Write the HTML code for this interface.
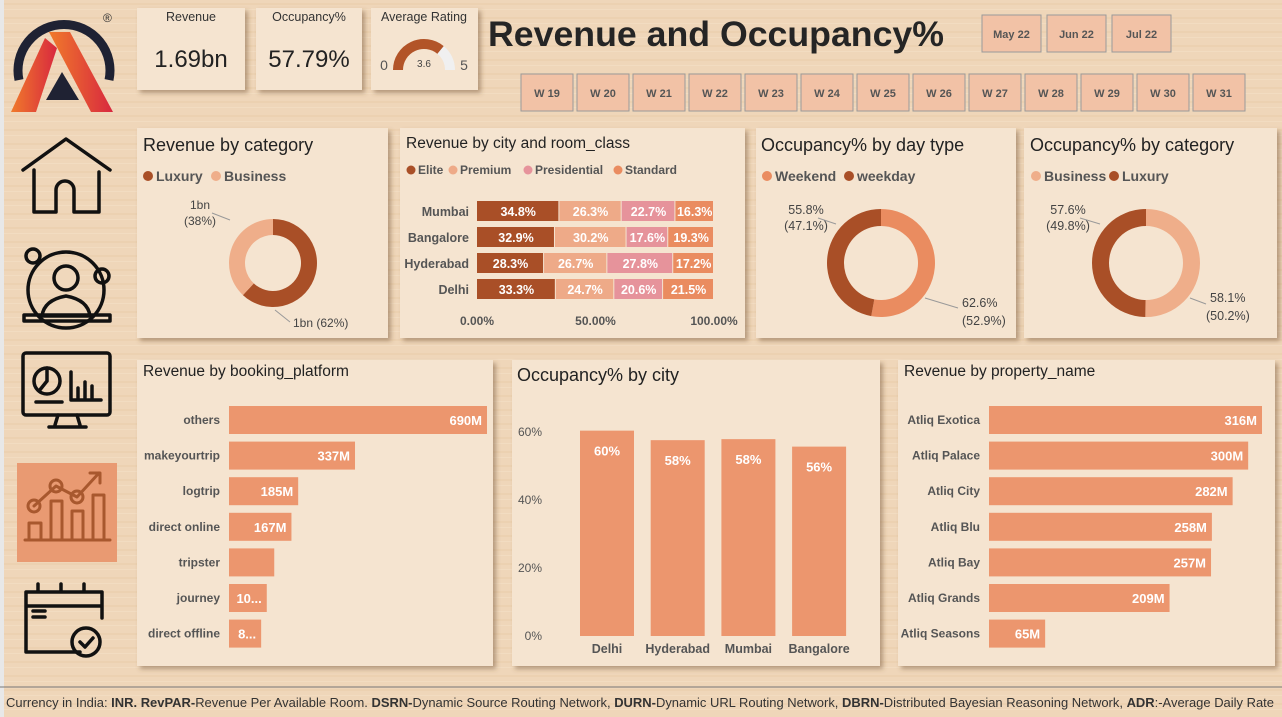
<!DOCTYPE html>
<html><head><meta charset="utf-8"><style>
html,body{margin:0;padding:0;width:1282px;height:717px;overflow:hidden;}
body{background:#efd6b9;font-family:"Liberation Sans",sans-serif;}
svg text{font-family:"Liberation Sans",sans-serif;}
</style></head><body>
<svg id="root" width="1282" height="717" viewBox="0 0 1282 717" xmlns="http://www.w3.org/2000/svg">
<defs>
<pattern id="wood" width="1282" height="14" patternUnits="userSpaceOnUse">
<rect width="1282" height="14" fill="#efd6b9"/>
<rect y="3" width="1282" height="2" fill="#ebcfae" opacity="0.7"/>
<rect y="9" width="1282" height="1" fill="#f3ddc3" opacity="0.8"/>
</pattern>
<filter id="sh" x="-10%" y="-10%" width="130%" height="130%"><feDropShadow dx="3" dy="3" stdDeviation="2.5" flood-color="#6b4a2a" flood-opacity="0.45"/></filter>
<linearGradient id="logoG" x1="0" x2="1"><stop offset="0" stop-color="#f07a2b"/><stop offset="1" stop-color="#d8283f"/></linearGradient>
</defs>
<rect width="1282" height="717" fill="url(#wood)"/>
<rect x="0" y="0" width="4" height="717" fill="#e8e8e8"/>
<g id="layer"></g>
</svg>
<script>
// ---- data ----
const kpiRevenue = "1.69bn";
const kpiOccupancy = "57.79%";
const ratingValue = 3.6, ratingMax = 5;
const months = ["May 22","Jun 22","Jul 22"];
const weeks = ["W 19","W 20","W 21","W 22","W 23","W 24","W 25","W 26","W 27","W 28","W 29","W 30","W 31"];
const revCatLabels = ["Luxury","Business"];
const revCatShares = [62,38];
const cities = ["Mumbai","Bangalore","Hyderabad","Delhi"];
const roomClasses = ["Elite","Premium","Presidential","Standard"];
const eliteShare = [34.8,32.9,28.3,33.3];
const premiumShare = [26.3,30.2,26.7,24.7];
const presidentialShare = [22.7,17.6,27.8,20.6];
const standardShare = [16.3,19.3,17.2,21.5];
const dayTypes = ["Weekend","weekday"];
const dayTypeShares = [52.9,47.1];
const dayTypeOcc = ["62.6%","55.8%"];
const occCatLabels = ["Business","Luxury"];
const occCatShares = [50.2,49.8];
const occCatOcc = ["58.1%","57.6%"];
const platforms = ["others","makeyourtrip","logtrip","direct online","tripster","journey","direct offline"];
const platformRevenue = [690,337,185,167,121,101,86];
const platformLabels = ["690M","337M","185M","167M","","10...","8..."];
const occCities = ["Delhi","Hyderabad","Mumbai","Bangalore"];
const occCityValues = [60.4,57.6,57.9,55.7];
const occTicks = [0,20,40,60];
const properties = ["Atliq Exotica","Atliq Palace","Atliq City","Atliq Blu","Atliq Bay","Atliq Grands","Atliq Seasons"];
const propertyRevenue = [316,300,282,258,257,209,65];

// ---- helpers ----
const NS="http://www.w3.org/2000/svg";
const layer=document.getElementById('layer');
function el(tag,attrs,parent,text){const e=document.createElementNS(NS,tag);for(const k in attrs)e.setAttribute(k,attrs[k]);if(text!==undefined)e.textContent=text;(parent||layer).appendChild(e);return e;}
function card(x,y,w,h,name){const r=el('rect',{x:x,y:y,width:w,height:h,fill:'#f5e4d0',filter:'url(#sh)'});

return r;}
function txt(x,y,s,opts,name,inter){const t=el('text',Object.assign({x:x,y:y,'font-size':12,fill:'#333'},opts||{}),layer,s);

return t;}
const C={elite:'#a94f27',premium:'#eeaa88',pres:'#e6939b',std:'#ea8c60',bar:'#ec966e'};

// ---- logo ----
(function(){
const g=el('g',{});


el('path',{d:'M19 80 A46 46 0 1 1 109 80',fill:'none',stroke:'#1f2233','stroke-width':9},g);
el('polygon',{points:'45,38 57,48 36,112 11,112',fill:'url(#logoG)'},g);
el('polygon',{points:'49,32 70,32 113,112 91,112',fill:'url(#logoG)'},g);
el('polygon',{points:'62,72 79,100 46,100',fill:'#1f2233'},g);
el('text',{x:103,y:22,'font-size':12,fill:'#333'},g,'®');
})();

// ---- KPI cards ----
card(137,8,108,82,'revenue-kpi-card');
txt(191,21,'Revenue',{'text-anchor':'middle','font-size':12.5},'revenue-kpi-label');
txt(191,67,kpiRevenue,{'text-anchor':'middle','font-size':24,fill:'#222'},'revenue-kpi-value');
card(256,8,106,82,'occupancy-kpi-card');
txt(309,21,'Occupancy%',{'text-anchor':'middle','font-size':12.5},'occupancy-kpi-label');
txt(309,67,kpiOccupancy,{'text-anchor':'middle','font-size':24,fill:'#222'},'occupancy-kpi-value');
card(371,8,107,82,'rating-kpi-card');
txt(424,21,'Average Rating',{'text-anchor':'middle','font-size':12.5},'rating-kpi-label');
(function(){const cx=424,cy=70,ro=31,ri=21;
function arc(a0,a1,col,name){const p=(a,r)=>[cx-r*Math.cos(a),cy-r*Math.sin(a)];
const [x0,y0]=p(a0,ro),[x1,y1]=p(a1,ro),[x2,y2]=p(a1,ri),[x3,y3]=p(a0,ri);
const e=el('path',{d:`M${x0} ${y0} A${ro} ${ro} 0 0 1 ${x1} ${y1} L${x2} ${y2} A${ri} ${ri} 0 0 0 ${x3} ${y3}Z`,fill:col});

}
const f=Math.PI*ratingValue/ratingMax;
arc(0,f,'#b25428','rating-gauge-value');arc(f,Math.PI,'#f0f0f0','rating-gauge-remainder');})();
txt(384,70,'0',{'text-anchor':'middle','font-size':14,fill:'#555'},'gauge-min');
txt(464,70,'5',{'text-anchor':'middle','font-size':14,fill:'#555'},'gauge-max');
txt(424,67,String(ratingValue),{'text-anchor':'middle','font-size':10,fill:'#444'},'gauge-value-label');

// ---- title ----
txt(488,46,'Revenue and Occupancy%',{'font-size':35,'font-weight':'bold',fill:'#252525',textLength:456,lengthAdjust:'spacingAndGlyphs'},'dashboard-title');

// ---- slicers ----
months.forEach((m,i)=>{const x=982+i*65;const r=el('rect',{x:x,y:15,width:59,height:37,fill:'#f2c2a6',stroke:'#9a9a9a','stroke-width':1});


txt(x+29.5,38,m,{'text-anchor':'middle','font-size':11,'font-weight':'bold',fill:'#555'},'month-button-label');});
weeks.forEach((w,i)=>{const x=521+i*56;const r=el('rect',{x:x,y:74,width:52,height:37,fill:'#f2c2a6',stroke:'#9a9a9a','stroke-width':1});


txt(x+26,97,w,{'text-anchor':'middle','font-size':11,'font-weight':'bold',fill:'#555'},'week-button-label');});

// ---- nav icons ----
(function(){const s={fill:'none',stroke:'#111','stroke-width':3.5,'stroke-linejoin':'round','stroke-linecap':'round'};
function grp(name,inter){const g=el('g',s);return g;}
let g=grp('home-nav-icon',true);
el('path',{d:'M23 170 L66 139 L110 170'},g);el('path',{d:'M34 170 V212 H56 V190 A9 9 0 0 1 74 190 V212 H99 V172'},g);
g=grp('guest-nav-icon',true);
el('circle',{cx:66,cy:290,r:38},g);el('circle',{cx:33,cy:256,r:7},g);el('circle',{cx:102,cy:276,r:7},g);
el('circle',{cx:66,cy:278,r:12,fill:'#f0d8bc'},g);el('path',{d:'M42 316 Q44 300 66 296 Q88 300 90 316 Z',fill:'#f0d8bc'},g);
el('rect',{x:24,y:315,width:86,height:6},g);
g=grp('analytics-nav-icon',true);
el('rect',{x:23,y:353,width:87,height:62,rx:3},g);el('path',{d:'M58 415 L55 425 M77 415 L80 425 M49 427 H86'},g);
el('circle',{cx:47,cy:381,r:13},g);el('path',{d:'M47 381 V368 M47 381 L39 391 M36 402 H62 M71 372 V400 H101 M78 388 V398 M85 382 V398 M92 386 V398'},g);
const hl=el('rect',{x:17,y:463,width:100,height:99,fill:'#e99a72',stroke:'none'});


g=grp('trends-nav-icon',true);g.setAttribute('stroke','#a8582e');g.setAttribute('stroke-width','3');
el('path',{d:'M25 540 H110 M29 539 V523 H41 V539 M51 539 V501 H62 V539 M72 539 V511 H83 V539 M93 539 V495 H104 V539 M34 506 L56 486 L77 497 L99 473 M90 473 H100 V483'},g);
el('circle',{cx:34,cy:506,r:6},g);el('circle',{cx:56,cy:486,r:6},g);el('circle',{cx:77,cy:497,r:6},g);
g=grp('calendar-nav-icon',true);
el('path',{d:'M80 652 H26 V592 H102 V618 M26 606 H102 M38 592 V584 M61 592 V584 M84 592 V584 M33 611 H45 M33 617 H45'},g);
el('circle',{cx:86,cy:642,r:14},g);el('path',{d:'M80 642 L85 647 L93 638'},g);
})();

// ---- donut helper ----
function donut(cx,cy,ro,ri,shares,cols,prefix){let a=-Math.PI/2;const tot=shares.reduce((p,c)=>p+c,0);
shares.forEach((s,i)=>{const b=a+2*Math.PI*s/tot;const big=(b-a)>Math.PI?1:0;
const P=(ang,r)=>[cx+r*Math.cos(ang),cy+r*Math.sin(ang)];
const [x0,y0]=P(a,ro),[x1,y1]=P(b,ro),[x2,y2]=P(b,ri),[x3,y3]=P(a,ri);
const p=el('path',{d:`M${x0} ${y0} A${ro} ${ro} 0 ${big} 1 ${x1} ${y1} L${x2} ${y2} A${ri} ${ri} 0 ${big} 0 ${x3} ${y3}Z`,fill:cols[i]});

a=b;});}
function legendDot(x,y,col,label,name){const c=el('circle',{cx:x,cy:y,r:5,fill:col});


return txt(x+8,y+5,label,{'font-size':14,'font-weight':'bold',fill:'#555'},name,true);}

// Revenue by category
card(137,128,251,210,'revenue-by-category-card');
txt(143,151,'Revenue by category',{'font-size':18,fill:'#222'},'revenue-by-category-title');
legendDot(148,176,C.elite,revCatLabels[0],'legend-luxury');legendDot(216,176,'#efae8a',revCatLabels[1],'legend-business');
donut(273,263,44,28,revCatShares,[C.elite,'#efae8a'],'revenue-category');
txt(200,209,'1bn',{'text-anchor':'middle','font-size':12,fill:'#444'},'business-value-label');
txt(200,225,'('+revCatShares[1]+'%)',{'text-anchor':'middle','font-size':12,fill:'#444'},'business-share-label');
el('path',{d:'M212 213 L230 220',stroke:'#999',fill:'none'});
txt(293,327,'1bn ('+revCatShares[0]+'%)',{'font-size':12,fill:'#444'},'luxury-label');
el('path',{d:'M275 310 L290 322',stroke:'#999',fill:'none'});

// Revenue by city and room class
card(400,128,345,210,'revenue-by-city-room-class-card');
txt(406,148,'Revenue by city and room_class',{'font-size':15.5,fill:'#222'},'city-room-class-title');
(function(){const lc=[C.elite,C.premium,C.pres,C.std];const lx=[411,453,528,618];
roomClasses.forEach((r,i)=>{const c=el('circle',{cx:lx[i],cy:170,r:4.5,fill:lc[i]});
txt(lx[i]+7,174,r,{'font-size':12,'font-weight':'bold',fill:'#555'},'legend-'+r.toLowerCase(),true);});
const x0=477,W=237;const X=v=>x0+W*v/100;const series=[eliteShare,premiumShare,presidentialShare,standardShare];
cities.forEach((c,ci)=>{const y=201+ci*26;txt(469,y+15,c,{'text-anchor':'end','font-size':12.5,'font-weight':'bold',fill:'#555'},'city-label-'+c.toLowerCase());
let acc=0;series.forEach((s,si)=>{const v=s[ci];const tot=series.reduce((p,q)=>p+q[ci],0);const a=acc/tot*100,b=(acc+v)/tot*100;
const r=el('rect',{x:X(a),y:y,width:X(b)-X(a)-1,height:20,fill:lc[si]});


txt((X(a)+X(b))/2,y+15,v.toFixed(1)+'%',{'text-anchor':'middle','font-size':12.5,'font-weight':'bold',fill:'#fff'},'value-label');acc+=v;});});
[0,50,100].forEach(t=>txt(X(t),325,t.toFixed(2)+'%',{'text-anchor':'middle','font-size':12,'font-weight':'bold',fill:'#555'},'x-tick-'+t));
})();

// Occupancy by day type
card(756,128,260,210,'occupancy-by-day-type-card');
txt(761,151,'Occupancy% by day type',{'font-size':18,fill:'#222'},'day-type-title');
legendDot(767,176,C.std,dayTypes[0],'legend-weekend');legendDot(849,176,C.elite,dayTypes[1],'legend-weekday');
donut(881,263,54,37,dayTypeShares,[C.std,C.elite],'day-type');
txt(806,214,dayTypeOcc[1],{'text-anchor':'middle','font-size':12.5,fill:'#444'},'weekday-label');
txt(806,230,'('+dayTypeShares[1]+'%)',{'text-anchor':'middle','font-size':12.5,fill:'#444'},'weekday-share');
el('path',{d:'M818 218 L836 224',stroke:'#999',fill:'none'});
txt(962,307,dayTypeOcc[0],{'font-size':12.5,fill:'#444'},'weekend-label');
txt(962,325,'('+dayTypeShares[0]+'%)',{'font-size':12.5,fill:'#444'},'weekend-share');
el('path',{d:'M925 298 L958 308',stroke:'#999',fill:'none'});

// Occupancy by category
card(1024,128,253,210,'occupancy-by-category-card');
txt(1030,151,'Occupancy% by category',{'font-size':18,fill:'#222'},'occ-category-title');
legendDot(1036,176,'#efae8a',occCatLabels[0],'legend-occ-business');legendDot(1114,176,C.elite,occCatLabels[1],'legend-occ-luxury');
donut(1146,263,54,37,occCatShares,['#efae8a',C.elite],'occ-category');
txt(1068,214,occCatOcc[1],{'text-anchor':'middle','font-size':12.5,fill:'#444'},'occ-luxury-label');
txt(1068,230,'('+occCatShares[1]+'%)',{'text-anchor':'middle','font-size':12.5,fill:'#444'},'occ-luxury-share');
el('path',{d:'M1080 218 L1100 224',stroke:'#999',fill:'none'});
txt(1210,302,occCatOcc[0],{'font-size':12.5,fill:'#444'},'occ-business-label');
txt(1206,320,'('+occCatShares[0]+'%)',{'font-size':12.5,fill:'#444'},'occ-business-share');
el('path',{d:'M1190 298 L1206 304',stroke:'#999',fill:'none'});

// horizontal bar helper
function hbars(labels,vals,textVals,lx,bx,maxW,name){const mx=Math.max(...vals);
labels.forEach((l,i)=>{const y=406+i*35.6;txt(lx,y+18,l,{'text-anchor':'end','font-size':12,'font-weight':'bold',fill:'#555'},name+'-label-'+i);
const w=maxW*vals[i]/mx;const r=el('rect',{x:bx,y:y,width:w,height:28,fill:C.bar});


if(textVals[i])txt(bx+w-5,y+19,textVals[i],{'text-anchor':'end','font-size':13,'font-weight':'bold',fill:'#fff'},name+'-value-'+i);});}

card(137,360,356,306,'revenue-by-booking-platform-card');
txt(143,376,'Revenue by booking_platform',{'font-size':15.5,fill:'#222'},'booking-platform-title');
hbars(platforms,platformRevenue,platformLabels,220,229,258,'platform');

card(898,360,377,306,'revenue-by-property-card');
txt(904,376,'Revenue by property_name',{'font-size':15.5,fill:'#222'},'property-title');
hbars(properties,propertyRevenue,propertyRevenue.map(v=>v+'M'),980,989,273,'property');

// Occupancy by city
card(512,360,368,306,'occupancy-by-city-card');
txt(517,381,'Occupancy% by city',{'font-size':18,fill:'#222'},'occupancy-by-city-title');
(function(){const y0=636,k=3.4;const Y=v=>y0-v*k;
occTicks.forEach(t=>txt(542,Y(t)+4,t+'%',{'text-anchor':'end','font-size':12,fill:'#555'},'y-tick-'+t));
occCities.forEach((c,i)=>{const x=580+i*70.7;const r=el('rect',{x:x,y:Y(occCityValues[i]),width:54,height:occCityValues[i]*k,fill:C.bar});


txt(x+27,Y(occCityValues[i])+25,Math.round(occCityValues[i])+'%',{'text-anchor':'middle','font-size':13,'font-weight':'bold',fill:'#fff'},'occupancy-value-'+c.toLowerCase());
txt(x+27,653,c,{'text-anchor':'middle','font-size':12.5,'font-weight':'bold',fill:'#555'},'x-label-'+c.toLowerCase());});})();

// footer
el('line',{x1:0,y1:687,x2:1282,y2:687,stroke:'#777','stroke-width':1});
(function(){const t=el('text',{x:6,y:707,'font-size':13,fill:'#333',textLength:1268,lengthAdjust:'spacingAndGlyphs'});


const parts=[['Currency in India: ',0],['INR. RevPAR-',1],['Revenue Per Available Room. ',0],['DSRN-',1],['Dynamic Source Routing Network, ',0],['DURN-',1],['Dynamic URL Routing Network, ',0],['DBRN-',1],['Distributed Bayesian Reasoning Network, ',0],['ADR',1],[':-Average Daily Rate',0]];
parts.forEach(p=>{el('tspan',p[1]?{'font-weight':'bold'}:{},t,p[0]);});})();
</script>
</body></html>
